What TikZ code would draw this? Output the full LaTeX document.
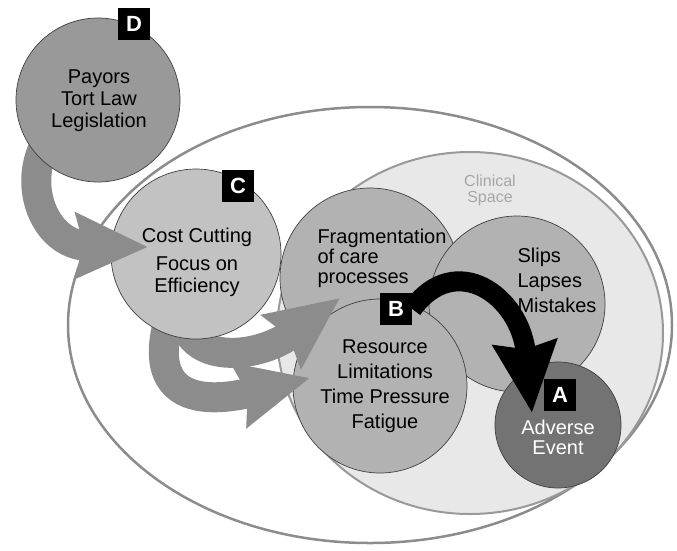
\documentclass[tikz,border=0pt]{standalone}
\usepackage{fontspec}
\setmainfont{Liberation Sans}
\usetikzlibrary{arrows.meta,positioning,calc,shapes.geometric}
\pgfdeclarelayer{back}
\pgfdeclarelayer{cflow}
\pgfdeclarelayer{dflow}
\pgfdeclarelayer{top}
\pgfsetlayers{back,cflow,main,dflow,top}
\tikzset{
  >=Stealth,
  every node/.append style={font=\fontsize{20}{22}\selectfont},
}
\tikzset{
  bubble/.style={circle, draw=black!75, line width=0.7pt, inner sep=0pt},
  tag/.style={fill=black, text=white, font=\fontsize{22}{22}\selectfont\bfseries,
              minimum size=32pt, inner sep=0pt},
  flow/.style={draw=black!45, line width=30pt,
               -{Stealth[length=72pt,width=64pt,inset=8pt]}}
}

\begin{document}
\begin{tikzpicture}[
  x=1pt, y=-1pt,
  cD/.style     ={fill=black!40},
  cC/.style     ={fill=black!24},
  cMid/.style   ={fill=black!30},
  cA/.style     ={fill=black!55},
  space/.style  ={ellipse, inner sep=0pt},
  txt/.style    ={inner sep=0pt, align=center},
  blackflow/.style={draw=black, line width=20pt,
                    -{Stealth[length=70pt,width=62pt,inset=6pt]}}
]
\useasboundingbox (0,0) rectangle (677,550);

\begin{pgfonlayer}{back}
% outer space and the clinical space
\node[space, draw=black!45, line width=2.5pt, fill=white,
      minimum width=604pt, minimum height=436pt] (outer) at (370,325) {};
\node[space, draw=black!40, line width=2pt, fill=black!9,
      minimum width=386pt, minimum height=362pt] (clinical) at (470,333) {};
\node[txt, text=black!35, font=\fontsize{16}{16}\selectfont] (clinLbl) at (490,190) {Clinical\\Space};

% circles inside the clinical space
\node[bubble, cMid, minimum size=180pt] (frag) at (370,278) {};
\node[bubble, cMid, minimum size=176pt] (slips) at (517,304) {};
\node[bubble, cMid, minimum size=174pt] (resource) at (380,386) {};
\node[bubble, cA, minimum size=126pt] (adverse) at (558,425) {};

\node[txt, align=left, font=\fontsize{20}{20}\selectfont] (fragTxt) at (382,258) {Fragmentation\\of care\\processes};
\node[txt, align=left, font=\fontsize{20}{25}\selectfont] (slipsTxt) at (557,280) {Slips\\Lapses\\Mistakes};
\node[txt, font=\fontsize{20}{25}\selectfont] (resTxt) at (385,386) {Resource\\Limitations\\Time Pressure\\Fatigue};
\node[txt, text=white, font=\fontsize{20}{20}\selectfont] (advTxt) at (558,437) {Adverse\\Event};

% B leads to A
\node[tag] (tagB) at (396,309) {B};
\coordinate (hitA) at (532,413);
\draw[blackflow] (tagB.east) .. controls (455,250) and (520,295) .. (hitA);
\node[tag] (tagA) at (560,395) {A};
\end{pgfonlayer}

% C
\node[bubble, cC, minimum size=170pt] (cost) at (196,254) {};

\begin{pgfonlayer}{top}
\node[bubble, cD, minimum size=164pt] (payors) at (98,100) {};
\node[txt] (payTxt) at (99,101) {Payors\\Tort Law\\Legislation};
\node[tag] (tagD) at (134,24) {D};
\node[txt] (costTxt) at (197,262) {Cost Cutting\\[6pt]Focus on\\Efficiency};
\node[tag] (tagC) at (238,186) {C};
\end{pgfonlayer}

% C feeds fragmentation and resource limits
\begin{pgfonlayer}{cflow}
\coordinate (tipF) at (340,298);
\coordinate (tipB) at (310,378);
\draw[flow] (cost.center) .. controls (145,370) and (250,365) .. (tipF);
\draw[flow] (cost.center) .. controls (110,420) and (220,400) .. (tipB);
\end{pgfonlayer}

% D feeds C
\begin{pgfonlayer}{dflow}
\coordinate (tipC) at (148,247);
\draw[flow] (payors.center) .. controls (5,135) and (30,245) .. (tipC);
\end{pgfonlayer}

\end{tikzpicture}
\end{document}
